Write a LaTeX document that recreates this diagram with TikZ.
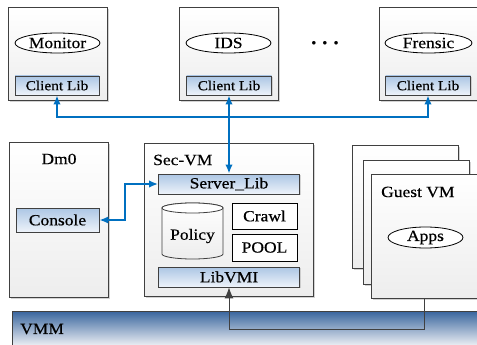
\documentclass[tikz,border=0pt]{standalone}
\usepackage{fontspec}
\setmainfont[FakeStretch=1.12]{Liberation Serif}
\newfontfamily\dfont[FakeStretch=1.12,FakeBold=0.5]{Liberation Serif}
\usetikzlibrary{shadows,arrows.meta,shapes.geometric}
\definecolor{lnk}{RGB}{0,112,192}
\definecolor{libtop}{RGB}{172,198,228}
\definecolor{libbot}{RGB}{238,243,250}
\definecolor{edge}{RGB}{64,64,64}
\definecolor{vmmtop}{RGB}{58,102,158}
\definecolor{vmmbot}{RGB}{236,239,244}
\begin{document}
\begin{tikzpicture}[x=1pt,y=-1pt,
  mainfont/.style={font=\dfont\fontsize{15.6}{17}\selectfont},
  vmbox/.style={draw=edge, line width=0.8pt, top color=white, bottom color=gray!14, inner sep=0pt,
    drop shadow={shadow xshift=1.8pt, shadow yshift=-1.8pt, opacity=0.35, fill=gray}},
  libbox/.style={draw=edge, line width=0.8pt, top color=libtop, bottom color=libbot, inner sep=0pt,
    font=\dfont\fontsize{13.7}{15}\selectfont,
    drop shadow={shadow xshift=1pt, shadow yshift=-1pt, opacity=0.3, fill=gray}},
  wbox/.style={draw=black, line width=1pt, fill=white, inner sep=0pt, mainfont},
  ell/.style={ellipse, draw=black, line width=0.8pt, fill=white, inner sep=0pt, mainfont},
  lbl/.style={inner sep=0pt, mainfont},
  blu/.style={draw=lnk, line width=1.8pt, {Latex[length=9pt,width=7.5pt]}-{Latex[length=9pt,width=7.5pt]}},
  gline/.style={draw=edge, line width=1pt, -{Latex[length=11pt,width=9pt]}, color=edge}
]
\useasboundingbox (0,0) rectangle (477,345);

% top application VMs
\node[vmbox, minimum width=99pt, minimum height=93pt] (mon) at (57.5,53.5) {};
\node[vmbox, minimum width=99pt, minimum height=93pt] (ids) at (228.5,53.5) {};
\node[vmbox, minimum width=98pt, minimum height=93pt] (fre) at (428,53.5) {};
\node[ell, minimum width=85pt, minimum height=20pt] (monitor) at (57.5,43) {Monitor};
\node[ell, minimum width=85pt, minimum height=20pt] (idsapp) at (228.5,43) {IDS};
\node[ell, minimum width=87pt, minimum height=20pt] (frensic) at (428.5,43) {Frensic};
\node[libbox, minimum width=84pt, minimum height=19pt] (monlib) at (57,85.5) {Client Lib};
\node[libbox, minimum width=85pt, minimum height=19pt] (idslib) at (229,85.5) {Client Lib};
\node[libbox, minimum width=85pt, minimum height=19pt] (frelib) at (428,85.5) {Client Lib};
\node[inner sep=0pt, font=\fontsize{9}{9}\selectfont] (dots) at (325,43) {$\bullet\hspace{4.5pt}\bullet\hspace{4.5pt}\bullet$};

% VMM bar
\node[draw=edge, line width=0.8pt, top color=vmmtop, bottom color=vmmbot, inner sep=0pt,
  minimum width=480pt, minimum height=34pt, anchor=north west] (vmm) at (12,311) {};
\node[lbl, anchor=west] (vmmlabel) at (20,329) {VMM};

% Dm0
\node[vmbox, minimum width=99pt, minimum height=155pt] (dm0) at (58.5,219.5) {};
\node[lbl] (dm0label) at (59,159) {Dm0};
\node[libbox, font=\dfont\fontsize{15.6}{17}\selectfont, minimum width=83pt, minimum height=24pt] (console) at (57.5,220) {Console};

% Sec-VM
\node[vmbox, minimum width=169pt, minimum height=153pt] (secvm) at (228.5,219.5) {};
\node[lbl, anchor=west] (seclabel) at (153,160) {Sec-VM};
\node[libbox, font=\dfont\fontsize{15.6}{17}\selectfont, minimum width=141pt, minimum height=20pt] (server) at (229,184) {Server\_Lib};
\node[libbox, font=\dfont\fontsize{15.6}{17}\selectfont, minimum width=141pt, minimum height=20pt] (libvmi) at (229,277) {LibVMI};
\node[wbox, minimum width=65pt, minimum height=26pt] (crawl) at (264.5,216) {Crawl};
\node[wbox, minimum width=65pt, minimum height=27pt] (pool) at (264.5,247.5) {POOL};
% Policy cylinder
\path[draw=edge, line width=0.8pt, top color=white, bottom color=gray!14]
  (162,208) -- (162,254) arc[start angle=180, end angle=360, x radius=30.5pt, y radius=5pt]
  -- (223,208) arc[start angle=0, end angle=180, x radius=30.5pt, y radius=5pt] -- cycle;
\draw[edge, line width=0.8pt, fill=white] (192.5,208) ellipse[x radius=30.5pt, y radius=5pt];
\node[lbl] (policy) at (192.5,236) {Policy};

% Guest VMs
\node[vmbox, minimum width=106pt, minimum height=123pt] (gback) at (405,206.5) {};
\node[vmbox, minimum width=106pt, minimum height=124pt] (gmid) at (416,222) {};
\node[vmbox, minimum width=106pt, minimum height=124pt] (gfront) at (424.5,236) {};
\node[lbl, anchor=west] (guestlabel) at (381,192) {Guest VM};
\node[ell, minimum width=75pt, minimum height=21pt] (apps) at (425.5,237.5) {Apps};

% connectors
\coordinate (jm) at (229,117);
\draw[blu] (monlib.south) |- (jm) -| (frelib.south);
\draw[blu] (idslib.south) -- (server.north);
\draw[blu] (server.west) -- ++(-33.5,0) |- (console.east);
\coordinate (vb) at (229,329.5);
\draw[gline] (gfront.south) |- (vb) -- (libvmi.south);
\end{tikzpicture}
\end{document}
